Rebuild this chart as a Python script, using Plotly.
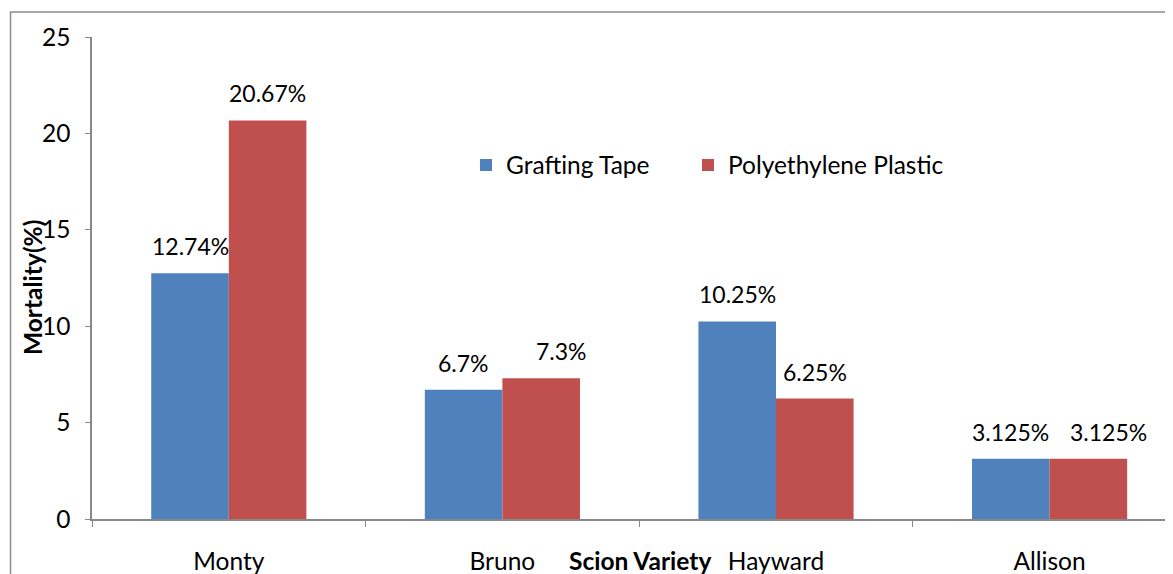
import plotly.graph_objects as go

categories = ["Monty", "Bruno", "Hayward", "Allison"]
grafting_tape = [12.74, 6.7, 10.25, 3.125]
polyethylene = [20.67, 7.3, 6.25, 3.125]
series_names = ["Grafting Tape", "Polyethylene Plastic"]
y_ticks = [0, 5, 10, 15, 20, 25]
x_title = "Scion Variety"
y_title = "Mortality(%)"

BLUE = "#4F81BD"
RED = "#C0504D"
FONT = "Lato, 'Open Sans', sans-serif"
FS_LABEL = 23
FS = 24.5

# page body has an 8px margin; figure origin is at page (8, 8)
OFF = 8
W, H = 1173 - OFF, 574 - OFF
ML, MR, MT, MB = 92 - OFF, 0, 37 - OFF, 574 - 519
PW, PH = W - ML - MR, H - MT - MB

def px_x(page_x):
    return (page_x - 92) / PW

def px_y(page_y):
    return (519 - page_y) / PH

fig = go.Figure()
fig.add_trace(go.Bar(x=categories, y=grafting_tape, name=series_names[0],
                     marker=dict(color=BLUE, line=dict(width=0)),
                     legend="legend", showlegend=True))
fig.add_trace(go.Bar(x=categories, y=polyethylene, name=series_names[1],
                     marker=dict(color=RED, line=dict(width=0)),
                     legend="legend2", showlegend=True))

# data labels above bars
cat_px = 273.6
bar_px = cat_px * (1 - 0.433) / 2
px_per_unit = PH / 25
label_w = 78
for i, c in enumerate(categories):
    v1, v2 = grafting_tape[i], polyethylene[i]
    shift2 = bar_px / 2
    # avoid overlap of labels at similar heights (as the original does)
    if abs(v1 - v2) * px_per_unit < 24 and label_w > bar_px - 10:
        shift2 += label_w + 20 - bar_px
    for v, off in ((v1, -bar_px / 2), (v2, shift2)):
        fig.add_annotation(x=c, y=v, text=f"{v:g}%", showarrow=False,
                           xshift=off, yshift=11, yanchor="bottom",
                           font=dict(family=FONT, size=FS_LABEL, color="#000"))

# axis titles
fig.add_annotation(xref="paper", yref="paper", x=px_x(640), y=px_y(560),
                   text=f"<b>{x_title}</b>", showarrow=False,
                   xanchor="center", yanchor="middle",
                   font=dict(family=FONT, size=FS, color="#000"))
fig.add_annotation(xref="paper", yref="paper", x=px_x(32), y=px_y(288),
                   text=f"<b>{y_title}</b>", showarrow=False, textangle=-90,
                   xanchor="center", yanchor="middle",
                   font=dict(family=FONT, size=FS, color="#000"))

# outer chart border
fig.add_shape(type="rect", xref="paper", yref="paper",
              x0=px_x(10.5), x1=1.1, y0=-0.3, y1=px_y(12),
              line=dict(color="#8c8c8c", width=1.5), layer="below")

leg_common = dict(orientation="h", xanchor="left", yanchor="middle",
                  font=dict(family=FONT, size=FS), itemwidth=30,
                  bgcolor="rgba(0,0,0,0)", y=px_y(165), visible=True)

fig.update_layout(
    width=W, height=H,
    margin=dict(l=ML, r=MR, t=MT, b=MB, pad=0),
    paper_bgcolor="white", plot_bgcolor="white",
    barmode="group", bargap=0.433, bargroupgap=0,
    showlegend=True,
    font=dict(family=FONT, size=FS, color="#000"),
    legend=dict(x=px_x(466), **leg_common),
    legend2=dict(x=px_x(688), **leg_common),
    xaxis=dict(range=[-0.5, -0.5 + PW / cat_px], showline=True,
               linecolor="#888", linewidth=1.5, ticks="outside",
               tickson="boundaries", ticklen=6, tickcolor="#888",
               showgrid=False, tickfont=dict(size=FS),
               ticklabelstandoff=20),
    yaxis=dict(range=[0, 25], tickvals=y_ticks, showline=True,
               linecolor="#888", linewidth=1.5, ticks="outside",
               ticklen=5, tickcolor="#888", showgrid=False,
               tickfont=dict(size=FS), zeroline=False,
               ticklabelstandoff=10),
)

fig.write_html("out.html")
